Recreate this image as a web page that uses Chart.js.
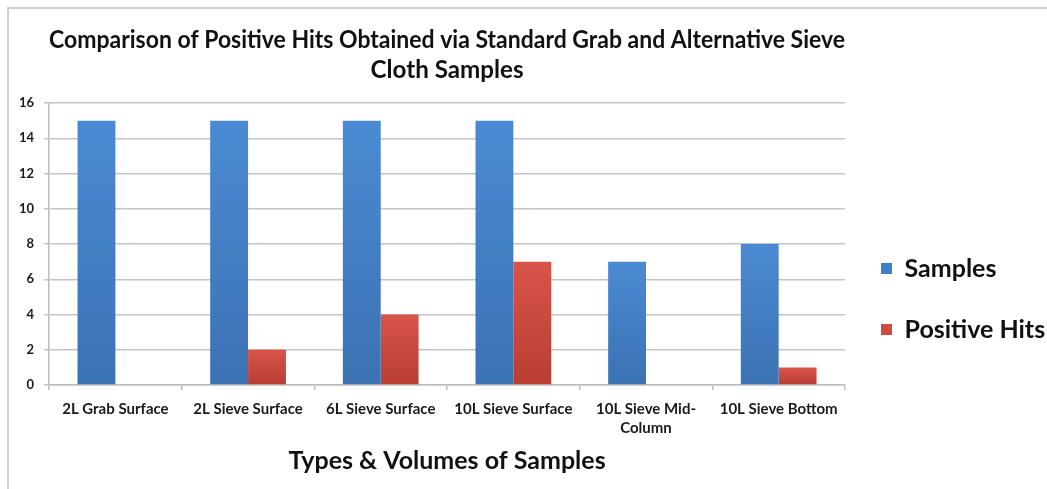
<!DOCTYPE html>
<html><head><meta charset="utf-8">
<script src="https://cdn.jsdelivr.net/npm/chart.js@4.4.1/dist/chart.umd.min.js"></script>
<style>
html,body{margin:0;padding:0;background:#fff;overflow:hidden;width:1047px;height:489px;}
#frame{position:absolute;left:7px;top:7px;width:1100px;height:600px;border:2px solid #d0d0d0;box-sizing:border-box;}
#wrap{position:absolute;left:0;top:0;width:1047px;height:489px;}
</style></head><body>
<div id="frame"></div>
<div id="wrap"><canvas id="c" width="1047" height="489"></canvas></div>
<script>
const categories = [["2L Grab Surface"], ["2L Sieve Surface"], ["6L Sieve Surface"], ["10L Sieve Surface"], ["10L Sieve Mid-", "Column"], ["10L Sieve Bottom"]];
const samples = [15, 15, 15, 15, 7, 8];
const positiveHits = [0, 2, 4, 7, 0, 1];
const seriesNames = ["Samples", "Positive Hits"];
const titleLines = ["Comparison of Positive Hits Obtained via Standard Grab and Alternative Sieve", "Cloth Samples"];
const xAxisTitle = "Types & Volumes of Samples";
const yMin = 0, yMax = 16, yStep = 2;

const FONT = "Lato, 'Open Sans', sans-serif";

function barGradient(top, bottom) {
  return (ctx) => {
    const chart = ctx.chart;
    const area = chart.chartArea;
    if (!area || ctx.type !== 'data') return top;
    const yScale = chart.scales.y;
    const v = ctx.parsed ? ctx.parsed.y : ctx.raw;
    const yTop = yScale.getPixelForValue(v);
    const yBot = yScale.getPixelForValue(0);
    if (!isFinite(yTop) || Math.abs(yBot - yTop) < 1) return top;
    const g = chart.ctx.createLinearGradient(0, yTop, 0, yBot);
    g.addColorStop(0, top);
    g.addColorStop(1, bottom);
    return g;
  };
}

new Chart(document.getElementById('c'), {
  type: 'bar',
  data: {
    labels: categories,
    datasets: [
      { label: seriesNames[0], data: samples, backgroundColor: barGradient('#4b8ad3', '#3b72b3'), borderWidth: 0,
        categoryPercentage: 0.571, barPercentage: 1.0 },
      { label: seriesNames[1], data: positiveHits, backgroundColor: barGradient('#d9544a', '#b83d33'), borderWidth: 0,
        categoryPercentage: 0.571, barPercentage: 1.0 }
    ]
  },
  options: {
    responsive: false,
    animation: false,
    devicePixelRatio: 1,
    layout: { padding: { left: 9, top: 0, right: 0, bottom: 0 } },
    plugins: {
      tooltip: { enabled: false },
      title: {
        display: true,
        text: titleLines,
        fullSize: false,
        color: '#111',
        font: { family: FONT, size: 24.2, weight: 'bold', lineHeight: 1.24 },
        padding: { top: 25, bottom: 18 }
      },
      legend: {
        display: true,
        position: 'right',
        align: 'start',
        maxWidth: 202,
        title: { display: true, text: ' ', font: { size: 10, lineHeight: 1 }, padding: { top: 210, bottom: 0 } },
        labels: {
          color: '#111',
          font: { family: FONT, size: 25, weight: 'bold' },
          boxWidth: 11, boxHeight: 11,
          padding: 36,
          generateLabels: (chart) => chart.data.datasets.map((ds, i) => ({
            text: ds.label,
            fillStyle: i === 0 ? '#3f7fc9' : '#cf4a40',
            strokeStyle: 'rgba(0,0,0,0)',
            fontColor: '#111',
            lineWidth: 0,
            datasetIndex: i,
            hidden: false
          }))
        }
      }
    },
    scales: {
      x: {
        grid: { display: true, drawOnChartArea: false, offset: true, tickLength: 5, color: '#bdbdbd', lineWidth: 1.5 },
        border: { display: true, color: '#bdbdbd', width: 1.5 },
        ticks: { color: '#1a1a1a', font: { family: FONT, size: 15, weight: 'bold', lineHeight: 1.25 }, maxRotation: 0, autoSkip: false, padding: 10 },
        title: { display: true, text: xAxisTitle, color: '#111', font: { family: FONT, size: 25, weight: 'bold', lineHeight: 1.1 }, padding: { top: 0, bottom: 14 } }
      },
      y: {
        min: yMin, max: yMax,
        grid: { color: '#c4c4c4', lineWidth: 1.5, tickLength: 5 },
        border: { display: true, color: '#bdbdbd', width: 1.5 },
        ticks: { stepSize: yStep, color: '#1a1a1a', font: { family: FONT, size: 13, weight: 'bold' }, padding: 10 }
      }
    }
  }
});
</script>
</body></html>
